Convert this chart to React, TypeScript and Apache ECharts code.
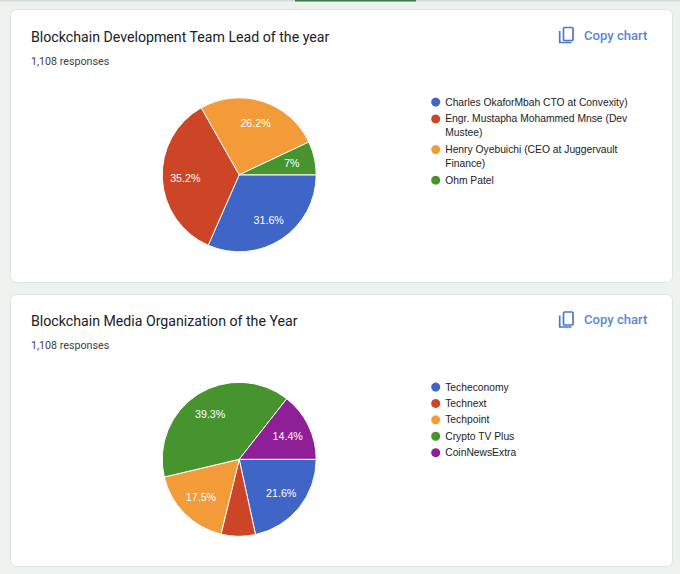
import React, { useEffect, useRef } from "react";
import * as echarts from "echarts";

const teamTitle = "Blockchain Development Team Lead of the year";
const teamNames = ["Charles OkaforMbah CTO at Convexity)", "Engr. Mustapha Mohammed Mnse (Dev Mustee)", "Henry Oyebuichi (CEO at Juggervault Finance)", "Ohm Patel"];
const teamLegendText = ["Charles OkaforMbah CTO at Convexity)", "\nEngr. Mustapha Mohammed Mnse (Dev\nMustee)", "\nHenry Oyebuichi (CEO at Juggervault\nFinance)", "\nOhm Patel\n"];
const teamValues = [31.6, 35.2, 26.2, 7];
const teamColors = ["#3f65c6", "#cc4526", "#f29b38", "#47942f"];

const mediaTitle = "Blockchain Media Organization of the Year";
const mediaNames = ["Techeconomy", "Technext", "Techpoint", "Crypto TV Plus", "CoinNewsExtra"];
const mediaValues = [21.6, 7.2, 17.5, 39.3, 14.4];
const mediaColors = ["#3f65c6", "#cc4526", "#f29b38", "#47942f", "#8e1f96"];
const mediaHiddenLabels = ["Technext"];

const responses = "1,108 responses";
const copyLabel = "Copy chart";
const LABEL_PUSH = 0.3;

function pieSeries(names: string[], values: number[], colors: string[], center: number[], hidden: string[]) {
  return {
    type: "pie",
    silent: true,
    center,
    radius: 77,
    startAngle: 0,
    clockwise: true,
    data: names.map((name, i) => ({
      name,
      value: values[i],
      itemStyle: { color: colors[i] },
      label: { show: !hidden.includes(name) },
    })),
    itemStyle: { borderColor: "#ffffff", borderWidth: 1 },
    emphasis: { disabled: true },
    label: {
      position: "inside",
      color: "#ffffff",
      fontFamily: "Liberation Sans",
      fontSize: 10.7,
      formatter: (p: any) => `${p.value}%`,
    },
    labelLayout: (p: any) => {
      const r = p.labelRect;
      return {
        dx: (r.x + r.width / 2 - center[0]) * LABEL_PUSH,
        dy: (r.y + r.height / 2 - center[1]) * LABEL_PUSH,
      };
    },
  };
}

function card(y: number, h: number, title: string, oy: number) {
  const ink = "#4a77d2";
  return [
    { type: "rect", shape: { x: 10.5, y: y + 0.5, width: 662, height: h, r: 6 }, style: { fill: "#ffffff", stroke: "#dfe5e3", lineWidth: 1 } },
    { type: "text", x: 31, y: oy + 36.7, style: { text: title, fill: "#202124", font: "400 14.17px Roboto", textVerticalAlign: "middle" } },
    { type: "text", x: 31, y: oy + 61, style: { text: responses, fill: "#3c4043", font: "400 10.7px Roboto", textVerticalAlign: "middle" } },
    { type: "rect", shape: { x: 563.5, y: oy + 27.5, width: 9.5, height: 13, r: 1 }, style: { fill: "none", stroke: ink, lineWidth: 1.7 } },
    { type: "polyline", shape: { points: [[559.7, oy + 31], [559.7, oy + 42.5], [571.5, oy + 42.5]] }, style: { fill: "none", stroke: ink, lineWidth: 1.7 } },
    { type: "text", x: 584, y: oy + 35, style: { text: copyLabel, fill: "#5a86d8", font: "500 13.1px Roboto", textVerticalAlign: "middle" } },
  ];
}

export default function App() {
  const ref = useRef<HTMLDivElement>(null);
  useEffect(() => {
    const chart = echarts.init(ref.current!, undefined, { renderer: "svg" });
    const legendBase = {
      orient: "vertical",
      left: 431.2,
      padding: 0,
      icon: "circle",
      itemWidth: 9,
      itemHeight: 12.5,
      itemStyle: { borderWidth: 0 },
      selectedMode: false,
      textStyle: { fontFamily: "Liberation Sans", fontSize: 10.3, color: "#222222", lineHeight: 13.7 },
    };
    chart.setOption({
      animation: false,
      backgroundColor: "#edf2ef",
      legend: [
        {
          ...legendBase,
          top: 95.2,
          itemGap: -10.5,
          formatter: (n: string) => teamLegendText[teamNames.indexOf(n)],
          data: teamNames,
        },
        { ...legendBase, top: 380.2, itemGap: 2.7, data: mediaNames },
      ],
      graphic: [
        { type: "rect", shape: { x: 0, y: 0, width: 680, height: 1.5 }, style: { fill: "#d5dcd9" } },
        { type: "rect", shape: { x: 295, y: 0, width: 121, height: 1.5 }, style: { fill: "#3f7d4e" } },
        ...card(9, 273, teamTitle, 0),
        ...card(294, 272, mediaTitle, 284.5),
      ].map((g: any) => ({ ...g, z: -1 })),
      series: [
        pieSeries(teamNames, teamValues, teamColors, [239.2, 174.8], []),
        pieSeries(mediaNames, mediaValues, mediaColors, [239.2, 459.3], mediaHiddenLabels),
      ],
    });
    return () => chart.dispose();
  }, []);
  return <div ref={ref} style={{ position: "absolute", left: 0, top: 0, width: 680, height: 574 }} />;
}
